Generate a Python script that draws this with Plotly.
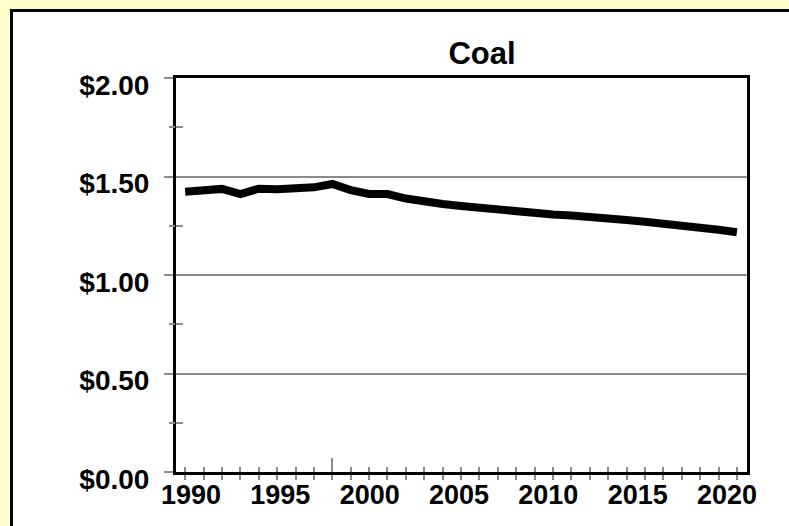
import plotly.graph_objects as go

# ---- data ----
years = list(range(1990, 2021))
coal_price = [1.423, 1.426, 1.437, 1.411, 1.438, 1.435, 1.436, 1.445, 1.462, 1.431,
              1.411, 1.411, 1.388, 1.371, 1.360, 1.350, 1.340, 1.331, 1.322, 1.312,
              1.307, 1.302, 1.297, 1.287, 1.279, 1.270, 1.262, 1.253, 1.242, 1.230,
              1.217]
label_years = [1990, 1995, 2000, 2005, 2010, 2015, 2020]
y_major = [0, 0.5, 1.0, 1.5, 2.0]
y_major_text = ["$0.00", "$0.50", "$1.00", "$1.50", "$2.00"]
y_minor = [0.25, 0.75, 1.25, 1.75]
marker_year = [1998]
title_text = "Coal"

W, H = 789, 526
L, R, T, B = 176, 42, 78, 54
pw, ph = W - L - R, H - T - B

FONT = "Liberation Sans"
GRAY = "#8c8c8c"
YELLOW = "#FFFFCC"
x_range = [1989.5, 2020.55]
label_range = [1989.16, 2021.12]


def px_x(p):
    return (p - L) / pw


def px_y(p):
    return (T + ph - p) / ph


fig = go.Figure()
fig.add_trace(go.Scatter(x=years, y=coal_price, mode="lines",
                         line=dict(color="black", width=8), showlegend=False,
                         hoverinfo="x+y"))

# yellow frame strips (top, left) and the black border of the white panel
fig.add_shape(type="rect", xref="paper", yref="paper",
              x0=px_x(0), x1=px_x(W), y0=px_y(10), y1=px_y(0),
              line=dict(width=0), fillcolor=YELLOW, layer="below")
fig.add_shape(type="rect", xref="paper", yref="paper",
              x0=px_x(0), x1=px_x(10), y0=px_y(H), y1=px_y(0),
              line=dict(width=0), fillcolor=YELLOW, layer="below")
fig.add_shape(type="line", xref="paper", yref="paper",
              x0=px_x(11.5), x1=px_x(W), y0=px_y(10.5), y1=px_y(10.5),
              line=dict(color="black", width=3), layer="below")
fig.add_shape(type="line", xref="paper", yref="paper",
              x0=px_x(11.5), x1=px_x(11.5), y0=px_y(9), y1=px_y(H),
              line=dict(color="black", width=3), layer="below")

fig.update_layout(
    width=W, height=H, autosize=False,
    margin=dict(l=L, r=R, t=T, b=B),
    paper_bgcolor="white", plot_bgcolor="rgba(0,0,0,0)",
    title=dict(text=title_text, x=482 / W, xref="container", xanchor="center",
               y=1 - 53 / H, yref="container", yanchor="middle",
               font=dict(family=FONT, size=31, color="black", weight="bold")),
    xaxis=dict(range=x_range, tickmode="array", tickvals=years, showticklabels=False,
               ticks="outside", ticklen=5, tickwidth=2, tickcolor=GRAY,
               showline=True, linecolor="black", linewidth=3, mirror=True,
               showgrid=False, zeroline=False),
    xaxis2=dict(overlaying="x", matches="x", anchor="y", tickmode="array", tickvals=years,
                showticklabels=False, ticks="inside", ticklen=5, tickwidth=2,
                tickcolor=GRAY, showline=False, showgrid=False, zeroline=False),
    xaxis3=dict(overlaying="x", anchor="y", range=label_range, tickmode="array",
                tickvals=label_years, ticktext=[str(v) for v in label_years],
                ticks="", showline=False, showgrid=False, zeroline=False,
                ticklabelstandoff=4,
                tickfont=dict(family=FONT, size=27, color="black", weight="bold")),
    xaxis4=dict(overlaying="x", matches="x", anchor="y", tickmode="array",
                tickvals=marker_year, showticklabels=False, ticks="inside", ticklen=14,
                tickwidth=2, tickcolor=GRAY, showline=False, showgrid=False,
                zeroline=False),
    yaxis=dict(range=[0, 2], tickmode="array", tickvals=y_major, ticktext=y_major_text,
               ticks="outside", ticklen=9, tickwidth=2, tickcolor=GRAY,
               showgrid=True, gridcolor=GRAY, gridwidth=2,
               showline=True, linecolor="black", linewidth=3, mirror=True,
               zeroline=False, ticklabelstandoff=9, ticklabelshift=7,
               tickfont=dict(family=FONT, size=28, color="black", weight="bold"),
               minor=dict(tickmode="array", tickvals=y_minor, ticks="inside",
                          ticklen=7, tickwidth=2, tickcolor=GRAY, showgrid=False)),
    yaxis2=dict(overlaying="y", matches="y", anchor="x", tickmode="array",
                tickvals=y_minor, showticklabels=False, ticks="outside", ticklen=6,
                tickwidth=2, tickcolor=GRAY, showgrid=False, showline=False,
                zeroline=False),
)

# invisible helper traces so overlay axes are drawn
for xa, ya in (("x2", "y2"), ("x3", "y"), ("x4", "y")):
    fig.add_trace(go.Scatter(x=[years[0]], y=[coal_price[0]], xaxis=xa, yaxis=ya,
                             mode="markers", marker=dict(opacity=0), showlegend=False,
                             hoverinfo="skip"))

fig.write_html("out.html", config={"displayModeBar": False},
               post_script="document.body.style.margin='0';"
                           "document.body.style.overflow='hidden';")
